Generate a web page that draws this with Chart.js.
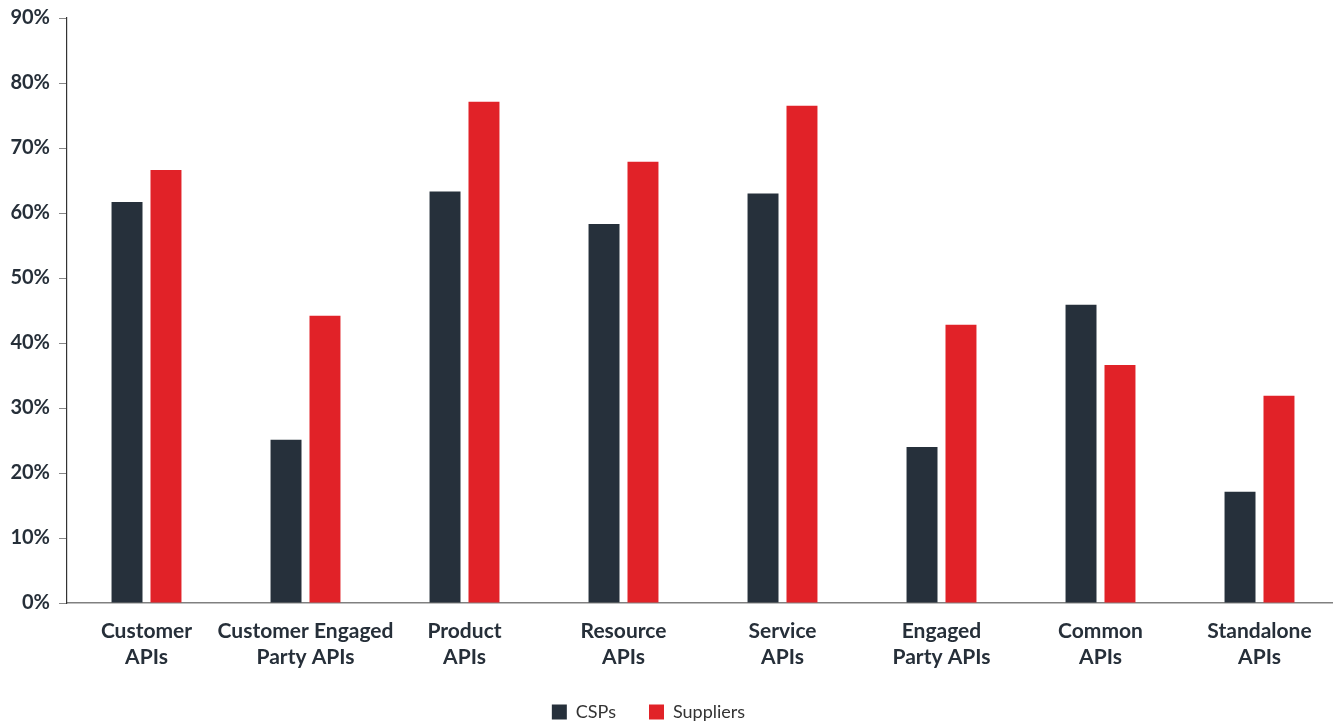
<!DOCTYPE html>
<html>
<head>
<meta charset="utf-8">
<script src="https://cdn.jsdelivr.net/npm/chart.js@4/dist/chart.umd.min.js"></script>
<style>
    html, body { margin: 0; padding: 0; background: #fff; overflow: hidden; }
    /* canvas is a bit larger than the window so the legend centres like the original */
    #wrap { width: 1381px; height: 731px; margin-left: -42px; position: relative; }
</style>
</head>
<body>
<div id="wrap"><canvas id="chart"></canvas></div>
<script>
// categories (two-line tick labels)
const categories = [
    ['Customer', 'APIs'],
    ['Customer Engaged', 'Party APIs'],
    ['Product', 'APIs'],
    ['Resource', 'APIs'],
    ['Service', 'APIs'],
    ['Engaged', 'Party APIs'],
    ['Common', 'APIs'],
    ['Standalone', 'APIs']
];

// percent values
const cspValues = [61.7, 25.1, 63.3, 58.3, 63.0, 24.0, 45.9, 17.1];
const supplierValues = [66.6, 44.2, 77.1, 67.9, 76.5, 42.8, 36.6, 31.9];

const yMax = 90;
const yStep = 10;

const DARK = '#26303b';
const RED = '#e12228';
const TEXT = '#262f39';

const ctx = document.getElementById('chart');

new Chart(ctx, {
    type: 'bar',
    data: {
        labels: categories,
        datasets: [
            {
                label: 'CSPs',
                data: cspValues,
                backgroundColor: DARK,
                categoryPercentage: 0.49,
                barPercentage: 0.795
            },
            {
                label: 'Suppliers',
                data: supplierValues,
                backgroundColor: RED,
                categoryPercentage: 0.49,
                barPercentage: 0.795
            }
        ]
    },
    options: {
        responsive: true,
        maintainAspectRatio: false,
        animation: false,
        layout: {
            padding: { top: 18, left: 0, right: 0, bottom: 0 }
        },
        plugins: {
            tooltip: { enabled: false },
            legend: {
                position: 'bottom',
                labels: {
                    boxWidth: 15,
                    boxHeight: 15,
                    padding: 33,
                    color: '#333',
                    font: { family: 'Lato', size: 18 }
                }
            }
        },
        scales: {
            x: {
                grid: { display: false, drawTicks: false },
                border: { color: '#808080', width: 1.5 },
                ticks: {
                    color: TEXT,
                    padding: 16,
                    autoSkip: false,
                    maxRotation: 0,
                    minRotation: 0,
                    font: { family: 'Lato', size: 21, weight: 'bold', lineHeight: 1.2 }
                },
                afterFit: scale => { scale.height = 67; }
            },
            y: {
                min: 0,
                max: yMax,
                grid: {
                    drawOnChartArea: false,
                    drawTicks: true,
                    tickLength: 8,
                    color: '#888'
                },
                border: { color: '#333', width: 1.2 },
                ticks: {
                    stepSize: yStep,
                    color: TEXT,
                    padding: 9,
                    font: { family: 'Lato', size: 20, weight: 'bold' },
                    callback: value => value + '%'
                },
                afterFit: scale => {
                    scale.width = 109;
                    scale.paddingTop = 0;
                }
            }
        }
    }
});
</script>
</body>
</html>
